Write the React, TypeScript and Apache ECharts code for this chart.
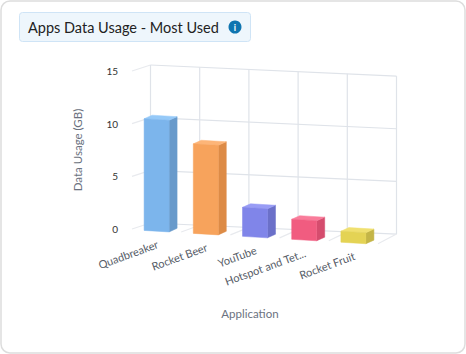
import React, { useEffect, useRef } from "react";
import * as echarts from "echarts";

const categories = ["Quadbreaker", "Rocket Beer", "YouTube", "Hotspot and Tet...", "Rocket Fruit"];
const usage = [10.6, 8.5, 2.75, 1.9, 1.05];
const yTicks = [0, 5, 10, 15];
const faceColors = ["#7cb5ec", "#f7a35c", "#8085e9", "#f15c80", "#e4d354"];
const sideColors = ["#689acb", "#dd8b46", "#6b70c9", "#d54d6e", "#c4b547"];
const topColors = ["#95c9f8", "#fdb578", "#989cf5", "#f97c9a", "#f0e070"];
const titleText = "Apps Data Usage - Most Used";

const FRONT_SLOPE = 0.06;
const BACK_SLOPE = 0.045;
const DEPTH_X = 18.5;
const DEPTH_Y = 6;
const GRID_LEFT = 132;
const FONT = "Lato, 'Noto Sans', sans-serif";
const WALL = "#dfe3e9";
const WALL_LIGHT = "#e8eaee";

// front plane point -> skewed position
function front(x: number, y: number): [number, number] {
  return [x, y + (x - GRID_LEFT) * FRONT_SLOPE];
}
function back(x: number, y: number): [number, number] {
  return [x + DEPTH_X, y - DEPTH_Y + (x - GRID_LEFT) * BACK_SLOPE];
}
function line(a: number[], b: number[], color: string) {
  return {
    type: "line",
    shape: { x1: a[0], y1: a[1], x2: b[0], y2: b[1] },
    style: { stroke: color, lineWidth: 1.2 },
    silent: true,
  };
}

const renderWalls = (_p: any, api: any) => {
  const band = api.size([1, 0])[0];
  const x0 = api.coord([0, 0])[0] - band / 2;
  const xEnd = x0 + band * categories.length;
  const children: any[] = [];
  yTicks.forEach((t) => {
    const y = api.coord([0, t])[1];
    children.push(line(back(x0, y), back(xEnd, y), WALL));
    children.push(line(front(x0, y), back(x0, y), WALL_LIGHT));
  });
  const yTop = api.coord([0, yTicks[yTicks.length - 1]])[1];
  const yBase = api.coord([0, 0])[1];
  for (let i = 0; i <= categories.length; i++) {
    const x = x0 + band * i;
    children.push(line(back(x, yTop), back(x, yBase), WALL));
    if (i > 0) children.push(line(front(x, yBase), back(x, yBase), WALL_LIGHT));
  }
  return { type: "group", children };
};

const renderBar = (p: any, api: any) => {
  const i = api.value(0);
  const v = api.value(1);
  const c = api.coord([i, v]);
  const b = api.coord([i, 0]);
  const w = 25;
  const dx = 8;
  const dy = 3;
  const xl = c[0] - w / 2;
  const xr = c[0] + w / 2;
  const tl = front(xl, c[1] + 0.7);
  const tr = front(xr, c[1] + 0.7);
  const bl = front(xl, b[1] + 0.7);
  const br = front(xr, b[1] + 0.7);
  const off = (q: number[]) => [q[0] + dx, q[1] - dy - 0.6];
  const poly = (points: number[][], fill: string) => ({
    type: "polygon",
    shape: { points },
    style: { fill, stroke: fill, lineWidth: 0.5 },
    silent: true,
  });
  return {
    type: "group",
    children: [
      poly([tr, off(tr), off(br), br], sideColors[p.dataIndex]),
      poly([tl, off(tl), off(tr), tr], topColors[p.dataIndex]),
      poly([tl, tr, br, bl], faceColors[p.dataIndex]),
    ],
  };
};

const renderLabel = (p: any, api: any) => {
  const c = api.coord([api.value(0), 0]);
  const q = front(c[0], c[1]);
  return {
    type: "text",
    x: q[0] + 1,
    y: q[1] + 13,
    rotation: (20 * Math.PI) / 180,
    silent: true,
    style: {
      text: categories[p.dataIndex],
      textAlign: "right",
      textVerticalAlign: "middle",
      fill: "#555b66",
      fontSize: 11,
      fontFamily: FONT,
    },
  };
};

export default function App() {
  const ref = useRef<HTMLDivElement>(null);
  useEffect(() => {
    const chart = echarts.init(ref.current!, undefined, { renderer: "svg" });
    const points = usage.map((v, i) => [i, v]);
    chart.setOption({
      animation: false,
      backgroundColor: "#ffffff",
      grid: { left: GRID_LEFT, right: 88, top: 71, bottom: 125, containLabel: false },
      xAxis: {
        type: "category",
        data: categories,
        name: "Application",
        nameLocation: "middle",
        nameGap: 78,
        nameTextStyle: { color: "#6b7280", fontSize: 11.5, fontFamily: FONT, padding: [0, 10, 0, 0] },
        axisLine: { show: false },
        axisTick: { show: false },
        axisLabel: { show: false },
        splitLine: { show: false },
      },
      yAxis: {
        type: "value",
        min: 0,
        max: 15,
        interval: 5,
        name: "Data Usage (GB)",
        nameLocation: "middle",
        nameGap: 49,
        nameTextStyle: { color: "#6b7280", fontSize: 11.5, fontFamily: FONT },
        axisLine: { show: false },
        axisTick: { show: false },
        axisLabel: { margin: 14, color: "#333333", fontSize: 10, fontFamily: FONT },
        splitLine: { show: false },
      },
      series: [
        { type: "custom", renderItem: renderWalls, data: [[0, 0]], clip: false, silent: true, z: 1 },
        { type: "custom", renderItem: renderBar, data: points, clip: false, silent: true, z: 2 },
        { type: "custom", renderItem: renderLabel, data: points, clip: false, silent: true, z: 3 },
      ],
      graphic: [
        {
          type: "rect",
          z: -1,
          silent: true,
          shape: { x: 1, y: 1, width: 464, height: 352, r: 9 },
          style: { fill: "#ffffff", stroke: "#dddddd", lineWidth: 1.5 },
        },
        {
          type: "rect",
          silent: true,
          shape: { x: 19.5, y: 12.5, width: 231, height: 29, r: 3 },
          style: { fill: "#eef6fc", stroke: "#cfe4f6", lineWidth: 1 },
        },
        {
          type: "text",
          silent: true,
          x: 28,
          y: 27.5,
          style: {
            text: titleText,
            fill: "#222222",
            fontSize: 14.5,
            fontFamily: FONT,
            textVerticalAlign: "middle",
          },
        },
        {
          type: "circle",
          silent: true,
          shape: { cx: 235, cy: 27, r: 6.5 },
          style: { fill: "#0f75b0" },
        },
        {
          type: "text",
          silent: true,
          x: 235,
          y: 27,
          style: {
            text: "i",
            fill: "#ffffff",
            fontSize: 9,
            fontWeight: "bold",
            fontFamily: FONT,
            textAlign: "center",
            textVerticalAlign: "middle",
          },
        },
      ],
    });
    return () => chart.dispose();
  }, []);
  return <div ref={ref} style={{ position: "fixed", left: 0, top: 0, width: 466, height: 354 }} />;
}
